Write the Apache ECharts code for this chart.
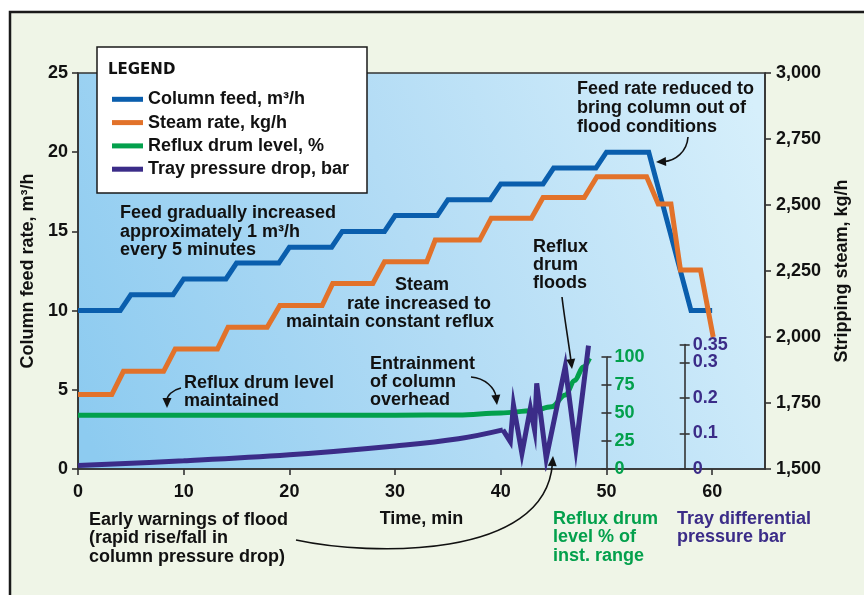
<!DOCTYPE html>
<html><head><meta charset="utf-8">
<script src="https://cdn.jsdelivr.net/npm/echarts@6/dist/echarts.min.js"></script>
<style>html,body{margin:0;padding:0;background:#fff}#c{width:864px;height:595px}</style>
</head><body><div id="c"></div>
<script>
// ---- data ----
const feedTime = [0,4,5,9,10,14,15,19,20,24,25,29,30,34,35,39,40,44,45,49,50,54,58,60];
const feedRate = [10,10,11,11,12,12,13,13,14,14,15,15,16,16,17,17,18,18,19,19,20,20,10,10];
const steamTime = [0,3.2,4.3,8.1,9.2,13.2,14.2,17.9,19.1,23.1,24.1,27.9,29.0,33.0,33.8,38.0,39.1,42.9,44.0,47.9,49.1,53.8,54.9,56.1,57.0,58.9,60.1];
const steamRate = [1782,1782,1870,1870,1955,1955,2037,2037,2119,2119,2203,2203,2285,2285,2367,2367,2450,2450,2528,2528,2607,2607,2504,2504,2254,2254,2000];
const levelTime = [0,30,36,40,43,44.8,46.1,47,47.8,48.4];
const levelPct  = [48,48,48.3,50,52,55.5,66,79,91,99];
const dpSmoothTime = [0,10,20,30,36,40.2];
const dpSmoothBar  = [0.01,0.023,0.04,0.065,0.085,0.11];
const dpZigTime = [40.2,40.9,41.2,42.0,42.8,43.2,43.4,44.3,46.1,47.1,48.3];
const dpZigBar  = [0.11,0.077,0.18,0.044,0.171,0.11,0.241,0.030,0.288,0.058,0.347];
const timeTicks = [0,10,20,30,40,50,60];
const levelTicks = [0,25,50,75,100];
const dpTicks = [0,0.1,0.2,0.3,0.35];
const names = ['Column feed, m³/h','Steam rate, kg/h','Reflux drum level, %','Tray pressure drop, bar'];

const pairs = (xs, ys) => xs.map((x, i) => [x, ys[i]]);
const FONT = '"Liberation Sans", Arial, Helvetica, sans-serif';
const BLUE = '#0a5ead', ORANGE = '#e2722a', GREEN = '#03a04c', PURPLE = '#3b2c88', INK = '#111';
const AX = { color: '#333', width: 1.6 };

// layout: main plot spans x = 78..765 px for 0..65 min
const PL = 78, PR = 99, W = 864;
const pxPerMin = (W - PL - PR) / 65;
const LEVEL_AXIS_MIN = 50;    // green axis drawn at t = 50 min
const DP_AXIS_MIN = 57.4;     // purple axis drawn at t ~ 57.4 min
const rightFor = (t) => W - (PL + t * pxPerMin);

const chart = echarts.init(document.getElementById('c'), null, { renderer: 'canvas' });

function txt(x, y0, lh, lines, color, align) {
  return lines.map((t, i) => ({
    type: 'text', z: 20, silent: true,
    style: { text: t, x: x, y: y0 + i * lh, fill: color || INK, align: align || 'left', verticalAlign: 'middle',
      fontSize: 18, fontWeight: 'bold', fontFamily: FONT }
  }));
}
function arrow(p0, c1, c2, p3) {
  const dx = p3[0] - c2[0], dy = p3[1] - c2[1];
  const L = Math.hypot(dx, dy) || 1, ux = dx / L, uy = dy / L;
  const len = 10, w = 4.5;
  const bx = p3[0] - ux * len, by = p3[1] - uy * len;
  return [
    { type: 'bezierCurve', z: 20, silent: true,
      shape: { x1: p0[0], y1: p0[1], cpx1: c1[0], cpy1: c1[1], cpx2: c2[0], cpy2: c2[1], x2: bx + ux * 2, y2: by + uy * 2 },
      style: { stroke: INK, lineWidth: 1.6, fill: null } },
    { type: 'polygon', z: 20, silent: true,
      shape: { points: [p3, [bx - uy * w, by + ux * w], [bx + uy * w, by - ux * w]] },
      style: { fill: INK } }
  ];
}

const graphics = [
  { type: 'rect', z: -10, silent: true, shape: { x: 10, y: 12, width: 900, height: 700 },
    style: { fill: '#eff5e7', stroke: '#1a1a1a', lineWidth: 2.5 } },
  { type: 'rect', z: 5, silent: true, shape: { x: 97, y: 47, width: 270, height: 146 },
    style: { fill: '#fff', stroke: '#1a1a1a', lineWidth: 1.5 } },
  { type: 'text', z: 20, silent: true, style: { text: 'LEGEND', x: 108, y: 70, verticalAlign: 'middle',
      fill: INK, fontSize: 15, fontWeight: 900, fontFamily: '"DejaVu Sans", sans-serif' } },
  ...txt(120, 213, 18.7, ['Feed gradually increased', 'approximately 1 m³/h', 'every 5 minutes']),
  ...txt(577, 89.3, 19, ['Feed rate reduced to', 'bring column out of', 'flood conditions']),
  ...txt(422, 285, 0, ['Steam'], INK, 'center'),
  ...txt(419, 304, 0, ['rate increased to'], INK, 'center'),
  ...txt(390, 322, 0, ['maintain constant reflux'], INK, 'center'),
  ...txt(533, 246.7, 18.4, ['Reflux', 'drum', 'floods']),
  ...txt(184, 382.7, 18.3, ['Reflux drum level', 'maintained']),
  ...txt(370, 364.3, 18, ['Entrainment', 'of column', 'overhead']),
  ...txt(89, 520, 18.5, ['Early warnings of flood', '(rapid rise/fall in', 'column pressure drop)']),
  ...txt(553, 519, 18.5, ['Reflux drum', 'level % of', 'inst. range'], GREEN),
  ...txt(677, 519, 18.5, ['Tray differential', 'pressure bar'], PURPLE),
  ...arrow([688, 137], [687, 152], [675, 161], [656, 162]),
  ...arrow([562, 297], [564, 315], [569, 345], [572, 369]),
  ...arrow([181, 388], [172, 390], [167, 396], [167, 408]),
  ...arrow([471, 377], [485, 378], [495, 388], [497, 405]),
  ...arrow([296, 540], [370, 556], [545, 560], [553, 456])
];

const labelStyle = { fontSize: 18, fontWeight: 'bold', fontFamily: FONT, color: INK };
const hiddenX = (g, max) => ({ type: 'value', gridIndex: g, min: 0, max: max, show: false });
const dpFmt = v => String(+(+v).toFixed(2));

const option = {
  backgroundColor: '#fff',
  animation: false,
  textStyle: { fontFamily: FONT },
  graphic: { elements: graphics },
  legend: {
    show: true, orient: 'vertical', left: 112, top: 89.3, z: 6, padding: 0,
    icon: 'rect', itemWidth: 31, itemHeight: 5, itemGap: 3.3, selectedMode: false,
    textStyle: { fontSize: 18, fontWeight: 'bold', fontFamily: FONT, color: INK, lineHeight: 20 },
    data: names
  },
  grid: [
    { left: PL, right: PR, top: 73, bottom: 126, show: true, outerBoundsMode: 'none', containLabel: false,
      borderColor: '#333', borderWidth: 1.6,
      backgroundColor: new echarts.graphic.LinearGradient(0, 0.85, 1, 0.15, [
        { offset: 0, color: '#8dcbf0' }, { offset: 0.5, color: '#b3dcf5' }, { offset: 1, color: '#d6effb' }]) },
    { left: PL, right: rightFor(LEVEL_AXIS_MIN), top: 357, bottom: 126, outerBoundsMode: 'none', containLabel: false },
    { left: PL, right: rightFor(DP_AXIS_MIN), top: 344.6, bottom: 126, outerBoundsMode: 'none', containLabel: false }
  ],
  xAxis: [
    { type: 'value', gridIndex: 0, min: 0, max: 65,
      axisLine: { show: true, lineStyle: AX },
      axisTick: { show: true, length: 6, customValues: timeTicks, lineStyle: AX },
      axisLabel: Object.assign({ margin: 14, customValues: timeTicks }, labelStyle),
      splitLine: { show: false },
      name: 'Time, min', nameLocation: 'middle', nameGap: 41, nameTextStyle: labelStyle },
    hiddenX(1, LEVEL_AXIS_MIN), hiddenX(2, DP_AXIS_MIN)
  ],
  yAxis: [
    { type: 'value', gridIndex: 0, position: 'left', min: 0, max: 25, interval: 5,
      axisLine: { show: true, lineStyle: AX }, axisTick: { show: true, length: 6, lineStyle: AX },
      axisLabel: Object.assign({ margin: 10 }, labelStyle), splitLine: { show: false },
      name: 'Column feed rate, m³/h', nameLocation: 'middle', nameGap: 40, nameRotate: 90, nameTextStyle: labelStyle },
    { type: 'value', gridIndex: 0, position: 'right', min: 1500, max: 3000, interval: 250,
      axisLine: { show: true, lineStyle: AX }, axisTick: { show: true, length: 6, lineStyle: AX },
      axisLabel: Object.assign({ margin: 11, formatter: v => v.toLocaleString('en-US') }, labelStyle),
      splitLine: { show: false },
      name: 'Stripping steam, kg/h', nameLocation: 'middle', nameGap: 68, nameRotate: 90, nameTextStyle: labelStyle },
    { type: 'value', gridIndex: 1, position: 'right', min: 0, max: 100, interval: 25,
      axisLine: { show: true, onZero: false, lineStyle: AX }, axisTick: { show: true, length: 5, lineStyle: AX },
      axisLabel: Object.assign({}, labelStyle, { margin: 8, color: GREEN, customValues: levelTicks }),
      splitLine: { show: false } },
    { type: 'value', gridIndex: 1, position: 'right', min: 0, max: 100, interval: 25,
      axisLine: { show: false, onZero: false }, axisTick: { show: true, inside: true, length: 5, lineStyle: AX },
      axisLabel: { show: false }, splitLine: { show: false } },
    { type: 'value', gridIndex: 2, position: 'right', min: 0, max: 0.35,
      axisLine: { show: true, onZero: false, lineStyle: AX },
      axisTick: { show: true, length: 5, customValues: dpTicks, lineStyle: AX },
      axisLabel: Object.assign({}, labelStyle, { margin: 8, color: PURPLE, customValues: dpTicks.slice(0, 4),
        formatter: dpFmt }), splitLine: { show: false } },
    { type: 'value', gridIndex: 2, position: 'right', min: 0, max: 0.35,
      axisLine: { show: false, onZero: false },
      axisTick: { show: true, inside: true, length: 5, customValues: dpTicks, lineStyle: AX },
      axisLabel: Object.assign({}, labelStyle, { margin: 8, color: PURPLE, customValues: dpTicks.slice(4),
        formatter: dpFmt }), splitLine: { show: false } }
  ],
  series: [
    { name: names[2], type: 'line', xAxisIndex: 1, yAxisIndex: 2, data: pairs(levelTime, levelPct),
      smooth: 0.35, smoothMonotone: 'x', symbol: 'none', color: GREEN, itemStyle: { color: GREEN },
      lineStyle: { width: 5, color: GREEN }, z: 2 },
    { name: names[3], type: 'line', xAxisIndex: 2, yAxisIndex: 4, data: pairs(dpSmoothTime, dpSmoothBar),
      smooth: 0.4, symbol: 'none', color: PURPLE, itemStyle: { color: PURPLE },
      lineStyle: { width: 5, color: PURPLE }, z: 3 },
    { name: names[3], type: 'line', xAxisIndex: 2, yAxisIndex: 4, data: pairs(dpZigTime, dpZigBar),
      symbol: 'none', color: PURPLE, itemStyle: { color: PURPLE },
      lineStyle: { width: 5, color: PURPLE, join: 'miter' }, z: 3 },
    { name: names[0], type: 'line', xAxisIndex: 0, yAxisIndex: 0, data: pairs(feedTime, feedRate),
      symbol: 'none', color: BLUE, itemStyle: { color: BLUE },
      lineStyle: { width: 5, color: BLUE, join: 'miter' }, z: 3 },
    { name: names[1], type: 'line', xAxisIndex: 0, yAxisIndex: 1, data: pairs(steamTime, steamRate),
      symbol: 'none', color: ORANGE, itemStyle: { color: ORANGE },
      lineStyle: { width: 5, color: ORANGE, join: 'miter' }, z: 4 }
  ]
};
chart.setOption(option);
</script></body></html>
